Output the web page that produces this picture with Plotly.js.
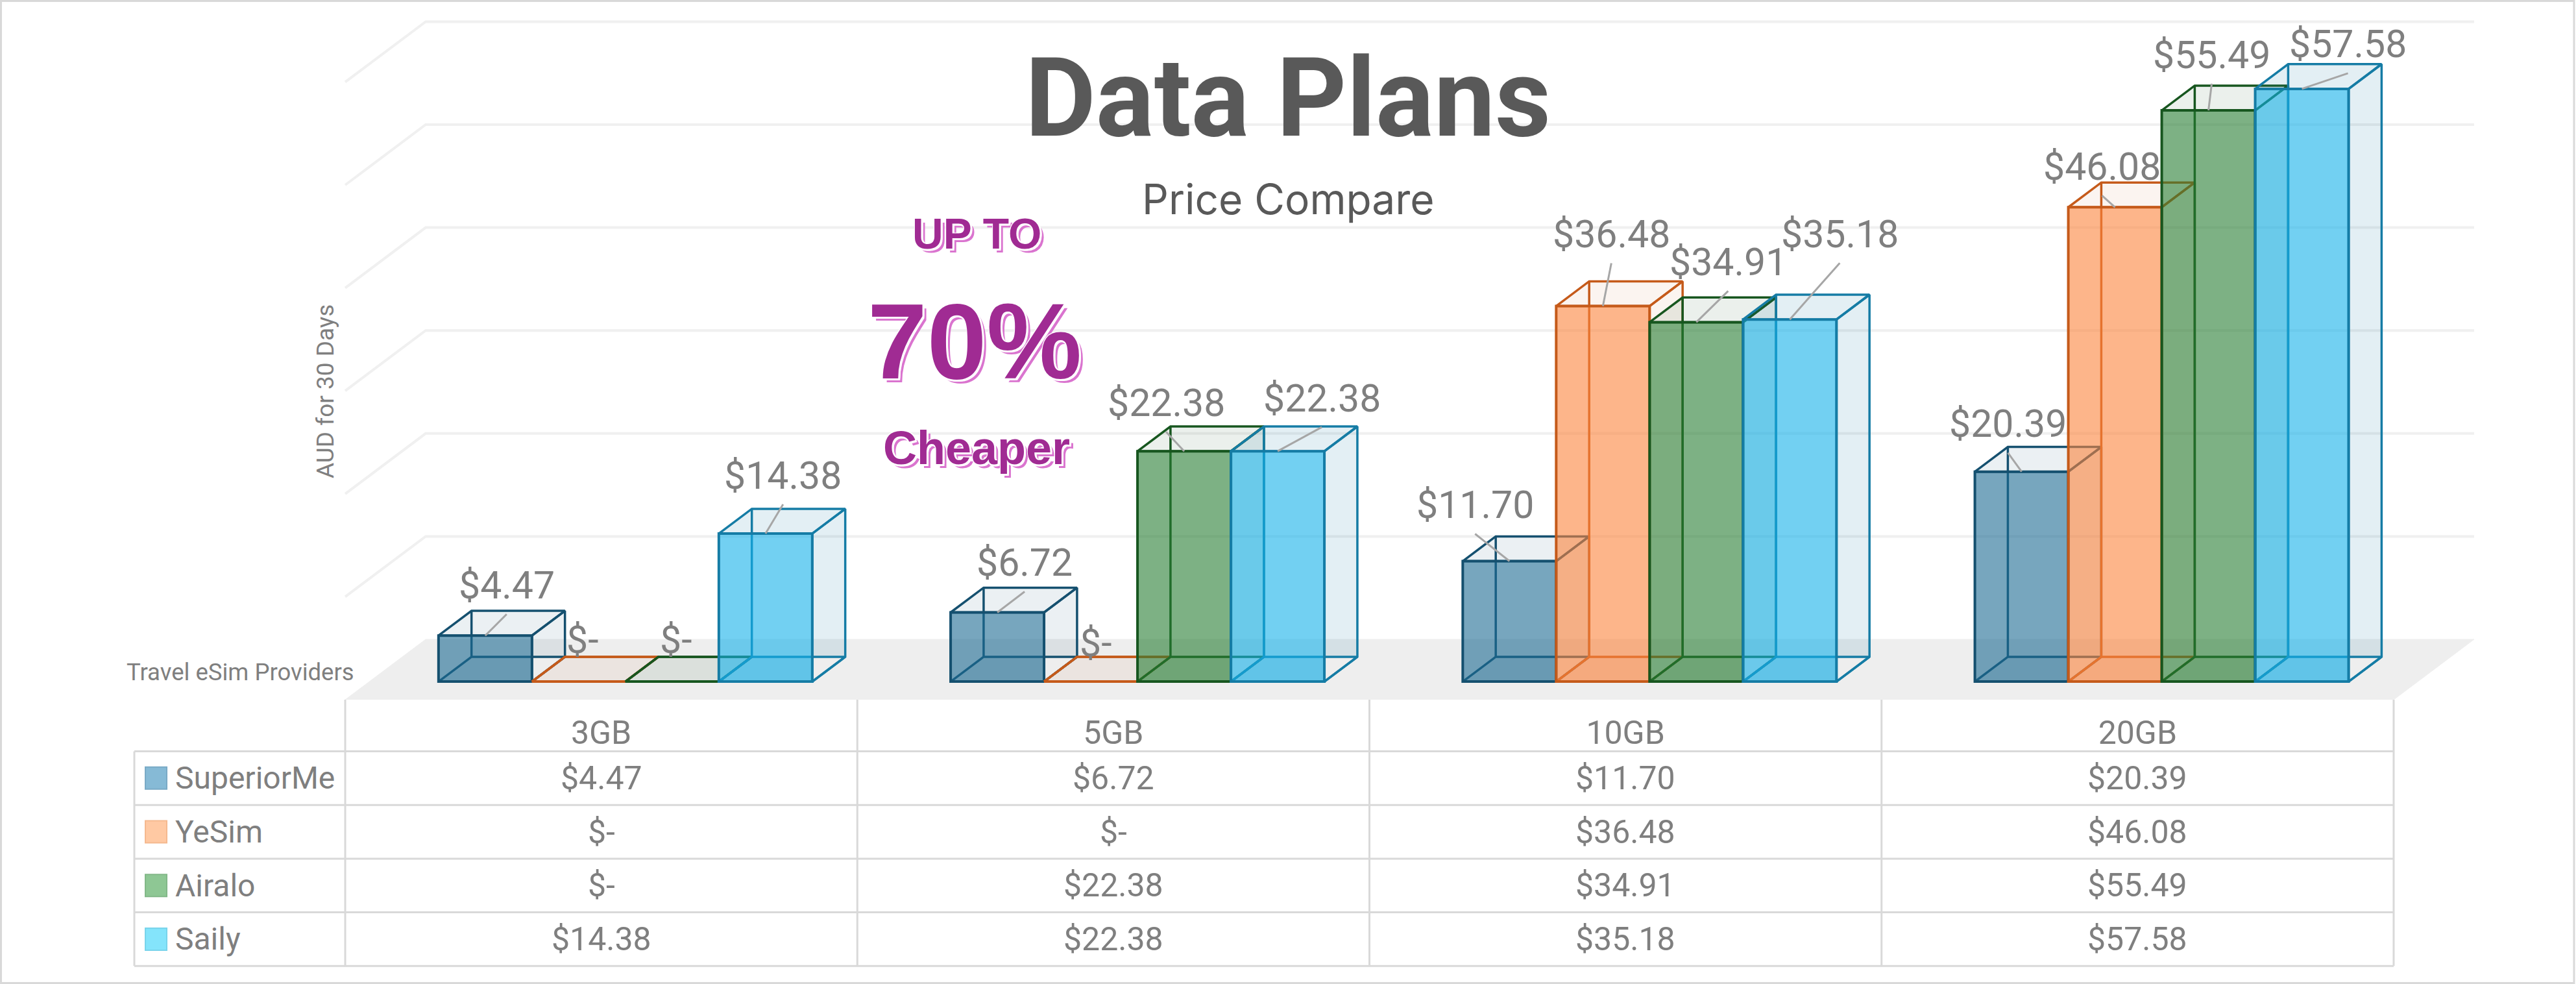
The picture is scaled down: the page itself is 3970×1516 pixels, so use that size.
<!DOCTYPE html>
<html><head><meta charset="utf-8">
<script src="https://cdn.plot.ly/plotly-3.0.1.min.js"></script>
<style>html,body{margin:0;padding:0;background:#fff;overflow:hidden}</style>
</head><body><div id="chart" style="width:3970px;height:1516px"></div>
<script>
// ---------- data ----------
const categories = ['3GB','5GB','10GB','20GB'];
const seriesNames = ['SuperiorMe','YeSim','Airalo','Saily'];
const superiorMe = [4.47, 6.72, 11.70, 20.39];
const yeSim      = [0, 0, 36.48, 46.08];
const airalo     = [0, 22.38, 34.91, 55.49];
const saily      = [14.38, 22.38, 35.18, 57.58];
const seriesValues = [superiorMe, yeSim, airalo, saily];
const gridValues = [10,20,30,40,50,60];

// ---------- style ----------
const W=3970,H=1516,FLOOR_PY=1078,CAT_W=789.25,PX_PER_V=15.86;
const DEPTH_X=124/CAT_W, DEPTH_Y=93/PX_PER_V, Z_FRONT=0.30, Z_BACK=0.71;
const BAR_W=144/CAT_W;
const xLo=-0.5-532/CAT_W, xHi=xLo+W/CAT_W, yHi=FLOOR_PY/PX_PER_V;
const edge=['#15506F','#C55A1A','#17561F','#157CA5'];
const fill=['rgba(28,107,147,.6)','rgba(252,132,60,.6)','rgba(38,125,50,.6)','rgba(20,177,233,.6)'];
const face=['rgba(21,80,111,.085)','rgba(197,90,26,.065)','rgba(23,86,31,.085)','rgba(21,124,165,.12)'];
const keyFill=['#86BAD6','#FFC9A3','#8EC794','#84E4FB'];
const keyLine=['#7AAAC6','#F5B98F','#82B888','#78D4EB'];
const grey='#7F7F7F', dark='#595959', purple='#A02B93';
const FONT='Roboto, sans-serif';
// label offset from the top-centre of each bar, in px [dx, dyUp] per series/category
const labelOff=[
 [[33,78],[42,77],[-53,87],[-21,74]],
 [[6,65],[7,60],[13,111],[-20,63]],
 [[6,65],[-28,75],[49,93],[5,86]],
 [[27,90],[68,82],[77,132],[71,69]]
];

const fmt=v=>v===0?'$-':'$'+v.toFixed(2);
const project=(x,v,z)=>[x+z*DEPTH_X, v+z*DEPTH_Y];
const px=p=>p/W, py=p=>1-p/H;

const traces=[];
// back wall gridlines + left wall
{const xs=[],ys=[];
 gridValues.forEach(v=>{
  const a=project(-0.5,v,0),b=project(-0.5,v,1),c=project(3.5,v,1);
  xs.push(a[0],b[0],c[0],null);ys.push(a[1],b[1],c[1],null);
 });
 traces.push({type:'scatter',mode:'lines',x:xs,y:ys,line:{color:'#F0F0F0',width:4},cliponaxis:false,hoverinfo:'skip',showlegend:false,xaxis:'x',yaxis:'y'});
 const f=[[-0.5,0,0],[3.5,0,0],[3.5,0,1],[-0.5,0,1],[-0.5,0,0]].map(q=>project(...q));
 traces.push({type:'scatter',mode:'lines',x:f.map(q=>q[0]),y:f.map(q=>q[1]),fill:'toself',fillcolor:'#EEEEEE',line:{color:'#EEEEEE',width:1},cliponaxis:false,hoverinfo:'skip',showlegend:false,xaxis:'x',yaxis:'y'});
}
const barX=(g,s)=>g+(s-1.5)*BAR_W;
const axisIds=[];
seriesNames.forEach((name,s)=>{
 const backId=2+2*s, frontId=3+2*s;
 axisIds.push(backId,frontId);
 const xs=[],ys=[],lx=[],ly=[];
 const add=(arr)=>{arr.forEach(q=>{const p=project(...q);xs.push(p[0]);ys.push(p[1]);});xs.push(null);ys.push(null);};
 seriesValues[s].forEach((v,g)=>{
  const l=barX(g,s)-BAR_W/2,r=l+BAR_W;
  add([[l,v,Z_FRONT],[r,v,Z_FRONT],[r,v,Z_BACK],[l,v,Z_BACK],[l,v,Z_FRONT]]);   // top
  add([[r,0,Z_FRONT],[r,v,Z_FRONT],[r,v,Z_BACK],[r,0,Z_BACK],[r,0,Z_FRONT]]);   // right
  add([[l,0,Z_FRONT],[r,0,Z_FRONT],[r,0,Z_BACK],[l,0,Z_BACK],[l,0,Z_FRONT]]);   // bottom
  const a=project(l,0,Z_BACK),b=project(l,v,Z_BACK);
  lx.push(a[0],b[0],null);ly.push(a[1],b[1],null);
 });
 traces.push({type:'scatter',mode:'lines',x:xs,y:ys,fill:'toself',fillcolor:face[s],line:{color:edge[s],width:3.5},cliponaxis:false,hoverinfo:'skip',showlegend:false,xaxis:'x'+backId,yaxis:'y'+backId});
 traces.push({type:'scatter',mode:'lines',x:lx,y:ly,line:{color:edge[s],width:3.5},cliponaxis:false,hoverinfo:'skip',showlegend:false,xaxis:'x'+backId,yaxis:'y'+backId});
 traces.push({type:'bar',name:name,x:categories.map((c,g)=>project(barX(g,s),0,Z_FRONT)[0]),y:seriesValues[s],base:Z_FRONT*DEPTH_Y,width:BAR_W,
  marker:{color:fill[s],line:{color:edge[s],width:4}},showlegend:false,xaxis:'x'+frontId,yaxis:'y'+frontId});
});
// leader lines
const topId=10; axisIds.push(topId);
{const xs=[],ys=[];
 seriesValues.forEach((vals,s)=>vals.forEach((v,g)=>{
  if(v===0)return;
  const [dx,dy]=labelOff[s][g];
  const endUp=dy-45;
  if(Math.hypot(dx,endUp)<25)return;
  const p=project(barX(g,s),v,Z_FRONT);
  xs.push(p[0],p[0]+dx/CAT_W,null);ys.push(p[1],p[1]+endUp/PX_PER_V,null);
 }));
 traces.push({type:'scatter',mode:'lines',x:xs,y:ys,line:{color:'#A6A6A6',width:3},cliponaxis:false,hoverinfo:'skip',showlegend:false,xaxis:'x'+topId,yaxis:'y'+topId});
}

// ---------- annotations ----------
const ann=[];
seriesValues.forEach((vals,s)=>vals.forEach((v,g)=>{
 const p=project(barX(g,s),v,Z_FRONT);
 const [dx,dy]=labelOff[s][g];
 ann.push({x:p[0],y:p[1],xref:'x',yref:'y',text:fmt(v),showarrow:false,xanchor:'center',yanchor:'middle',xshift:dx,yshift:dy,font:{family:FONT,size:59,color:grey}});
}));
const rowTop=1157.5,rowH=82.7;
seriesNames.forEach((n,s)=>{
 const yc=py(rowTop+rowH*(s+.5));
 ann.push({x:px(268),y:yc,xref:'paper',yref:'paper',text:n,showarrow:false,xanchor:'left',yanchor:'middle',font:{family:FONT,size:48,color:grey}});
 seriesValues[s].forEach((v,g)=>ann.push({x:g,y:yc,xref:'x',yref:'paper',text:fmt(v),showarrow:false,xanchor:'center',yanchor:'middle',font:{family:FONT,size:50,color:grey}}));
});
ann.push({x:px(1985),y:py(306),xref:'paper',yref:'paper',text:'Price Compare',showarrow:false,xanchor:'center',yanchor:'middle',font:{family:'Inter, sans-serif',size:64,color:dark}});
ann.push({x:px(501),y:py(603),xref:'paper',yref:'paper',text:'AUD for 30 Days',textangle:-90,showarrow:false,xanchor:'center',yanchor:'middle',font:{family:FONT,size:37,color:grey}});
ann.push({x:px(370),y:py(1035),xref:'paper',yref:'paper',text:'Travel eSim Providers',showarrow:false,xanchor:'center',yanchor:'middle',font:{family:FONT,size:36.5,color:grey}});
const wa=(t,x,y,size)=>ann.push({x:px(x),y:py(y),xref:'paper',yref:'paper',text:'<b>'+t+'</b>',showarrow:false,xanchor:'center',yanchor:'middle',
 font:{family:'Liberation Sans, Arial, sans-serif',size:size,color:purple,shadow:'3px 3px 0 #fff, 3px 0 0 #fff, 0 3px 0 #fff, -1px -1px 0 #fff, 6px 6px 0 #DA74CF'}});
wa('UP TO',1505,360,66);wa('70%',1502,526,165);wa('Cheaper',1505,690,72);

// ---------- table & frame shapes ----------
const sh=[];
const L=(x0,y0,x1,y1)=>sh.push({type:'line',xref:'paper',yref:'paper',x0:px(x0),y0:py(y0),x1:px(x1),y1:py(y1),line:{color:'#D9D9D9',width:3}});
for(let i=0;i<=seriesNames.length;i++)L(207,rowTop+rowH*i,3689,rowTop+rowH*i);
L(207,rowTop,207,rowTop+rowH*4);
for(let i=0;i<=categories.length;i++)L(532+CAT_W*i,FLOOR_PY,532+CAT_W*i,rowTop+rowH*4);
sh.push({type:'rect',xref:'paper',yref:'paper',x0:px(1.5),y0:py(1.5),x1:px(W-3),y1:py(H-1.5),line:{color:'#D9D9D9',width:3}});
seriesNames.forEach((n,s)=>{const c=rowTop+rowH*(s+.5);
 sh.push({type:'rect',xref:'paper',yref:'paper',x0:px(224),x1:px(257),y0:py(c-17),y1:py(c+17),fillcolor:keyFill[s],line:{color:keyLine[s],width:2}});
});

// ---------- axes ----------
const layout={
 width:W,height:H,autosize:false,margin:{l:0,r:0,t:0,b:0,pad:0},paper_bgcolor:'#fff',plot_bgcolor:'rgba(0,0,0,0)',showlegend:false,barmode:'overlay',
 title:{text:'<b>Data Plans</b>',x:0.5,xref:'paper',xanchor:'center',y:1-150/H,yref:'paper',yanchor:'middle',font:{family:'Roboto, sans-serif',size:168,color:dark}},
 xaxis:{domain:[0,1],range:[xLo,xHi],tickmode:'array',tickvals:categories.map((c,i)=>i),ticktext:categories,ticks:'outside',ticklen:7,tickcolor:'rgba(0,0,0,0)',
  tickfont:{family:FONT,size:50,color:grey},showgrid:false,zeroline:false,showline:false,fixedrange:true},
 yaxis:{domain:[(H-FLOOR_PY)/H,1],range:[0,yHi],visible:false,fixedrange:true},
 annotations:ann,shapes:sh
};
axisIds.forEach(id=>{
 layout['xaxis'+id]={overlaying:'x',range:[xLo,xHi],visible:false,fixedrange:true};
 layout['yaxis'+id]={overlaying:'y',range:[0,yHi],visible:false,fixedrange:true};
});
Plotly.newPlot('chart',traces,layout,{staticPlot:true,displayModeBar:false});
</script></body></html>
